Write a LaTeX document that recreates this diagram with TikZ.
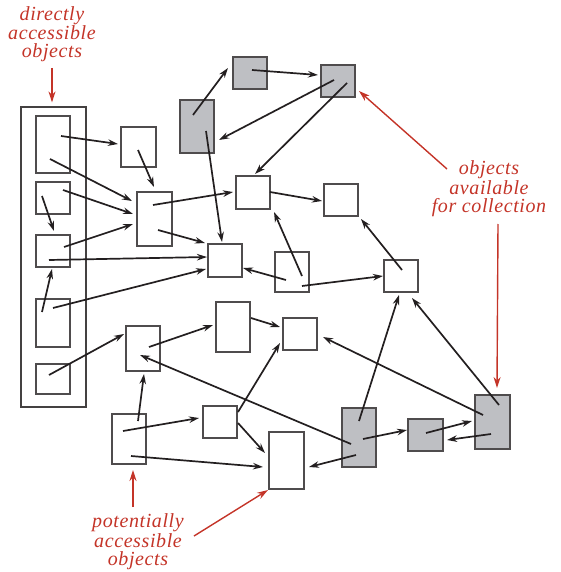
\documentclass[tikz,border=0pt]{standalone}
\usepackage{fontspec}
\setmainfont{Liberation Serif}
\newfontfamily\lblfont[LetterSpace=3]{Liberation Serif}
\usetikzlibrary{arrows.meta,calc}
\definecolor{redann}{RGB}{196,52,40}
\definecolor{boxgray}{RGB}{190,191,195}
\definecolor{ink}{RGB}{35,31,32}
\newcommand\linkarr[4]{\draw[arr] ($(#1.center)+(#2)$) -- ($(#3.center)+(#4)$);}
\begin{document}
\begin{tikzpicture}[x=1pt,y=-1pt,
  obj/.style={draw=ink!80, line width=1.2pt, minimum width=34pt, minimum height=32pt, inner sep=0pt, outer sep=0pt, fill=white},
  garb/.style={obj, fill=boxgray},
  arr/.style={draw=ink, line width=1.7pt, -{Stealth[length=10pt,width=6.5pt]}},
  redarr/.style={draw=redann, line width=1.4pt, -{Stealth[length=11pt,width=7pt]}},
  lbl/.style={text=redann, font=\lblfont\itshape\fontsize{20}{18}\selectfont, align=center, inner sep=0pt, anchor=base}]
\useasboundingbox (0,0) rectangle (561,572);
% root set frame
\node[draw=ink!85, line width=1.2pt, minimum width=65pt, minimum height=300pt, inner sep=0pt] (root) at (53.5,257) {};
% boxes
\node[obj, minimum height=57pt] (L1) at (53,144.5) {};
\node[obj] (L2) at (53,198) {};
\node[obj] (L3) at (53,251) {};
\node[obj, minimum height=48pt] (L4) at (53,323) {};
\node[obj, minimum height=30pt] (L5) at (53,379) {};
\node[obj, minimum width=35pt, minimum height=40pt] (A) at (138.5,147) {};
\node[obj, minimum width=35pt, minimum height=54pt] (B) at (154.5,219) {};
\node[obj, minimum height=33pt] (C) at (225,260.5) {};
\node[garb, minimum height=53pt] (G1) at (197,126.5) {};
\node[garb] (G2) at (250,73) {};
\node[garb] (G3) at (338,81) {};
\node[obj, minimum height=33pt] (D) at (253,192.5) {};
\node[obj] (E) at (341,200) {};
\node[obj, minimum height=40pt] (F) at (292,272) {};
\node[obj] (H) at (401,276) {};
\node[obj, minimum height=45pt] (I) at (143,348.5) {};
\node[obj, minimum height=50pt] (J) at (233,327) {};
\node[obj, minimum height=50pt] (K) at (129,439) {};
\node[obj] (M) at (220,422) {};
\node[obj, minimum width=35pt, minimum height=57pt] (N) at (286.5,460.5) {};
\node[obj] (O) at (300,334) {};
\node[garb, minimum height=59pt] (G4) at (359,437.5) {};
\node[garb, minimum width=35pt] (G5) at (425.5,435) {};
\node[garb, minimum width=35pt, minimum height=54pt] (G6) at (492.5,422) {};
% references
\linkarr{L1}{8,-8.5}{A}{-20.5,-3}
\linkarr{L1}{-3,14.5}{B}{-22.5,-18}
\linkarr{L2}{10,-8}{B}{-21.5,-5}
\linkarr{L2}{-11,-2}{L3}{1,-20}
\linkarr{L3}{11,-4}{B}{-21.5,5}
\linkarr{L3}{-4,9}{C}{-18,-3.5}
\linkarr{A}{-0.5,3}{B}{-0.5,-32}
\linkarr{B}{-1.5,-14}{D}{-20,-0.5}
\linkarr{B}{3.5,11}{C}{-20,-17.5}
\linkarr{G1}{-4,-11.5}{G2}{-22,-5}
\linkarr{G1}{9,4.5}{C}{-3,-18.5}
\linkarr{G2}{2,-3}{G3}{-20,-6}
\linkarr{G3}{-4,-1}{G1}{22,13.5}
\linkarr{G3}{9,2}{D}{2,-18.5}
\linkarr{D}{17,-0.5}{E}{-19,1}
\linkarr{F}{10,4}{D}{21,19.5}
\linkarr{F}{-6,8}{C}{18,7.5}
\linkarr{F}{10,14}{H}{-18,0}
\linkarr{H}{1,-6}{E}{20,19}
\linkarr{L4}{0,-15}{C}{-19,8.5}
\linkarr{L4}{-11,-11}{L3}{-1,18}
\linkarr{L5}{-4,-4}{I}{-19,-14.5}
\linkarr{I}{6,-1.5}{J}{-20,-2}
\linkarr{J}{18,-9}{O}{-20,-7}
\linkarr{M}{18,-10}{O}{-20,9}
\linkarr{M}{18,1}{N}{-21.5,-7.5}
\linkarr{K}{9,-18}{I}{1,25.5}
\linkarr{K}{-6,-8}{M}{-21,-4}
\linkarr{K}{2,17}{N}{-23.5,6.5}
\linkarr{G4}{-8,6.5}{I}{-3,6.5}
\linkarr{G4}{0,-16.5}{H}{-2,19}
\linkarr{G4}{4,1.5}{G5}{-18.5,-5}
\linkarr{G4}{-3,17.5}{N}{22.5,6.5}
\linkarr{G5}{0.5,-2}{G6}{-20.5,-1}
\linkarr{G6}{-1.5,12}{G5}{21.5,5}
\linkarr{G6}{-9.5,-7}{O}{23,3}
\linkarr{G6}{6.5,-17}{H}{11,22}
% annotations
\node[lbl] (tdir) at (52,58) {directly\\accessible\\objects};
\node[lbl] (tcol) at (489,212) {objects\\available\\for collection};
\node[lbl] (tpot) at (138,565) {potentially\\accessible\\objects};
\coordinate (sdir) at (52,68);
\coordinate (scol1) at (447,169);
\coordinate (scol2) at (498,224);
\coordinate (spot1) at (133,507);
\coordinate (spot2) at (194,536);
\draw[redarr] (sdir) -- ($(root.north)+(-1.5,-4)$);
\draw[redarr] (scol1) -- ($(G3.center)+(21,10)$);
\draw[redarr] (scol2) -- ($(G6.center)+(4.5,-34)$);
\draw[redarr] (spot1) -- ($(K.center)+(4,31)$);
\draw[redarr] (spot2) -- ($(N.center)+(-18.5,29.5)$);
\end{tikzpicture}
\end{document}
